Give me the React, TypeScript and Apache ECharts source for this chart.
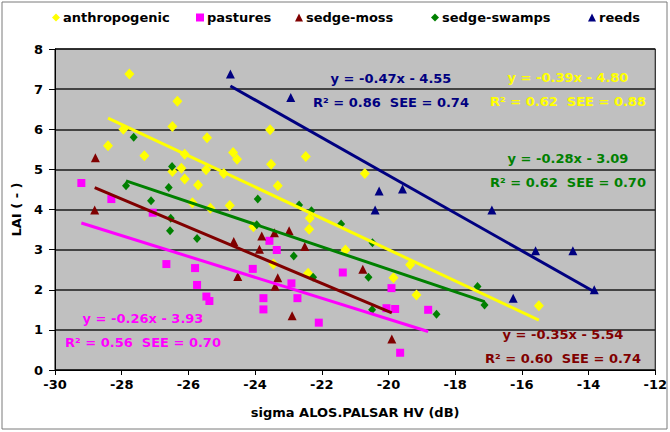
import React, { useEffect, useRef } from "react";
import * as echarts from "echarts";

const seriesNames = ["anthropogenic", "pastures", "sedge-moss", "sedge-swamps", "reeds"];
const seriesColors = ["#ffff00", "#ff00ff", "#800000", "#008000", "#000080"];
const seriesSymbols = ["diamond", "rect", "triangle", "diamond", "triangle"];
const symbolSizes: any[] = [[10, 11], [8, 8], [9, 9], [8, 9], [9, 9]];

const anthropogenic = [
  [-27.77, 7.38], [-26.33, 6.7], [-27.95, 6.0], [-26.48, 6.07], [-25.44, 5.79], [-28.41, 5.59],
  [-27.32, 5.34], [-26.11, 5.38], [-26.48, 4.95], [-26.21, 5.03], [-25.47, 4.99], [-26.11, 4.76],
  [-25.71, 4.61], [-25.88, 4.17], [-25.34, 4.03], [-23.55, 5.99], [-24.66, 5.42], [-24.54, 5.25],
  [-23.52, 5.13], [-22.48, 5.32], [-24.94, 4.9], [-20.71, 4.9], [-23.32, 4.59], [-24.76, 4.1],
  [-22.36, 3.78], [-22.38, 3.51], [-24.05, 3.57], [-21.29, 2.99], [-23.45, 2.64], [-22.41, 2.41],
  [-19.85, 2.3], [-19.35, 2.62], [-19.16, 1.87], [-15.49, 1.6],
];
const pastures = [
  [-29.21, 4.66], [-28.31, 4.26], [-27.07, 3.92], [-26.66, 2.64], [-25.8, 2.54], [-25.74, 2.12],
  [-25.46, 1.83], [-25.37, 1.72], [-24.07, 2.52], [-23.57, 3.22], [-23.35, 2.99], [-22.91, 2.16],
  [-23.75, 1.79], [-23.75, 1.51], [-22.73, 1.79], [-22.09, 1.18], [-21.37, 2.43], [-19.91, 2.04],
  [-20.06, 1.54], [-19.8, 1.52], [-19.65, 0.43], [-18.81, 1.5],
];
const sedgeMoss = [
  [-28.79, 5.29], [-28.81, 3.99], [-24.64, 3.2], [-23.8, 3.34], [-23.42, 3.42], [-22.98, 3.47],
  [-23.87, 3.01], [-22.51, 3.08], [-24.52, 2.33], [-23.32, 2.3], [-23.4, 2.09], [-22.89, 1.35],
  [-20.77, 2.51], [-19.9, 0.77],
];
const sedgeSwamps = [
  [-27.64, 5.8], [-26.49, 5.07], [-27.87, 4.59], [-26.59, 4.55], [-27.12, 4.22], [-26.53, 3.78],
  [-26.55, 3.47], [-25.74, 3.28], [-23.92, 4.26], [-22.68, 4.11], [-22.31, 3.97], [-23.95, 3.62],
  [-21.42, 3.64], [-20.48, 3.17], [-22.84, 2.84], [-22.26, 2.31], [-20.6, 2.31], [-20.49, 1.5],
  [-17.33, 2.08], [-17.12, 1.62], [-18.56, 1.39],
];
const reeds = [
  [-24.74, 7.38], [-22.93, 6.79], [-20.28, 4.46], [-20.4, 3.99], [-19.58, 4.51], [-16.9, 3.99],
  [-15.59, 2.97], [-14.47, 2.97], [-13.83, 2.0], [-16.26, 1.79],
];
const allData = [anthropogenic, pastures, sedgeMoss, sedgeSwamps, reeds];

const slopes = [-0.39, -0.26, -0.35, -0.28, -0.47];
const intercepts = [-4.8, -3.93, -5.54, -3.09, -4.55];
const r2Values = ["0.62", "0.56", "0.60", "0.62", "0.86"];
const seeValues = ["0.88", "0.70", "0.74", "0.70", "0.74"];
const eqLabels = ["-0.39x - 4.80", "-0.26x - 3.93", "-0.35x - 5.54", "-0.28x - 3.09", "-0.47x - 4.55"];
const eqPositions = [[568, 77], [143, 318], [563, 334], [568, 158], [391, 78]];

const xTicks = [-30, -12, 2];
const yTicks = [0, 8, 1];
const legendLeft = [52, 196, 295, 431, 588];

const FONT = "DejaVu Sans";

export default function App() {
  const ref = useRef<HTMLDivElement>(null);
  useEffect(() => {
    document.body.style.margin = "0";
    const chart = echarts.init(ref.current!, null, { renderer: "svg" });
    const series: any[] = [];
    allData.forEach((d, i) => {
      series.push({
        type: "scatter",
        name: seriesNames[i],
        data: d,
        symbol: seriesSymbols[i],
        symbolSize: symbolSizes[i],
        itemStyle: { color: seriesColors[i], opacity: 1 },
        z: 3,
      });
    });
    allData.forEach((d, i) => {
      const xs = d.map((p) => p[0]);
      const x0 = Math.min(...xs);
      const x1 = Math.max(...xs);
      series.push({
        type: "line",
        name: seriesNames[i] + " fit",
        data: [[x0, slopes[i] * x0 + intercepts[i]], [x1, slopes[i] * x1 + intercepts[i]]],
        symbol: "none",
        lineStyle: { color: seriesColors[i], width: 3 },
        z: 4,
        silent: true,
      });
    });
    const graphics: any[] = [];
    eqPositions.forEach((p, i) => {
      graphics.push({
        type: "text",
        x: p[0],
        y: p[1],
        style: {
          text: "y = " + eqLabels[i],
          fill: seriesColors[i],
          font: `bold 13px "${FONT}"`,
          textAlign: "center",
          textVerticalAlign: "middle",
        },
        z: 10,
      });
      graphics.push({
        type: "text",
        x: p[0],
        y: p[1] + 24,
        style: {
          text: "R\u00b2 = " + r2Values[i] + "  SEE = " + seeValues[i],
          fill: seriesColors[i],
          font: `bold 13px "${FONT}"`,
          textAlign: "center",
          textVerticalAlign: "middle",
        },
        z: 10,
      });
    });
    graphics.push({
      type: "rect",
      shape: { x: 2, y: 2, width: 665, height: 427 },
      style: { fill: "none", stroke: "#7a7a7a", lineWidth: 1 },
      z: 0,
    });
    chart.setOption({
      animation: false,
      backgroundColor: "#ffffff",
      textStyle: { fontFamily: FONT, fontWeight: "bold" },
      grid: {
        left: 55,
        right: 10,
        top: 49,
        bottom: 62,
        show: true,
        backgroundColor: "#c0c0c0",
        borderColor: "#000000",
        borderWidth: 1,
      },
      legend: seriesNames.map((n, i) => ({
        data: [n],
        left: legendLeft[i],
        top: 11,
        itemWidth: 8,
        itemHeight: 8,
        itemGap: 4,
        padding: 0,
        textStyle: { fontFamily: FONT, fontWeight: "bold", fontSize: 13, color: "#000", padding: [0, 0, 0, -2] },
      })),
      xAxis: {
        type: "value",
        min: xTicks[0],
        max: xTicks[1],
        interval: xTicks[2],
        name: "sigma ALOS.PALSAR HV (dB)",
        nameLocation: "middle",
        nameGap: 36,
        nameTextStyle: { fontFamily: FONT, fontWeight: "bold", fontSize: 13, color: "#000" },
        axisLine: { show: true, onZero: false, lineStyle: { color: "#000", width: 1 } },
        axisTick: { show: true, inside: false, length: 5, lineStyle: { color: "#000" } },
        axisLabel: { fontFamily: FONT, fontWeight: "bold", fontSize: 13, color: "#000", margin: 8 },
        splitLine: { show: false },
      },
      yAxis: {
        type: "value",
        min: yTicks[0],
        max: yTicks[1],
        interval: yTicks[2],
        name: "LAI ( - )",
        nameLocation: "middle",
        nameGap: 30,
        nameRotate: 90,
        nameTextStyle: { fontFamily: FONT, fontWeight: "bold", fontSize: 13, color: "#000" },
        axisLine: { show: true, lineStyle: { color: "#000", width: 1 } },
        axisTick: { show: true, inside: false, length: 6, lineStyle: { color: "#000" } },
        axisLabel: { fontFamily: FONT, fontWeight: "bold", fontSize: 13, color: "#000", margin: 12 },
        splitLine: { show: true, lineStyle: { color: "#1a1a1a", width: 1.5 } },
      },
      series,
      graphic: graphics,
    });
    return () => chart.dispose();
  }, []);
  return <div ref={ref} style={{ position: "absolute", left: 0, top: 0, width: 670, height: 432 }} />;
}
